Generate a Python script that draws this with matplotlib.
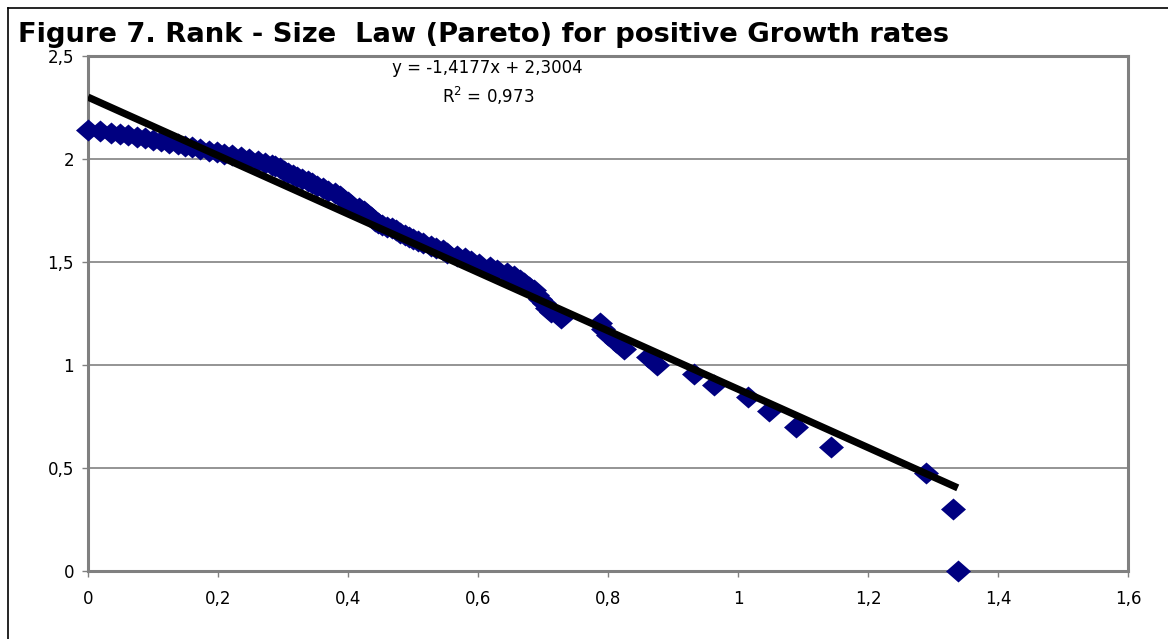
import matplotlib
matplotlib.use("Agg")
import matplotlib.pyplot as plt
from matplotlib.lines import Line2D

plt.rcParams['font.family'] = ['DejaVu Sans']

# log growth rate (x) vs log rank (y)
growth = [1.338, 1.330, 1.289, 1.143, 1.089, 1.047, 1.015, 0.963, 0.932, 0.876,
          0.862, 0.824, 0.812, 0.800, 0.793, 0.787, 0.727, 0.712, 0.706, 0.701,
          0.696, 0.691, 0.686, 0.679, 0.671, 0.664, 0.655, 0.645, 0.630, 0.618,
          0.602, 0.590, 0.580, 0.568, 0.553, 0.546, 0.536, 0.527, 0.515, 0.507,
          0.500, 0.494, 0.488, 0.480, 0.474, 0.468, 0.460, 0.452, 0.446, 0.442,
          0.436, 0.430, 0.424, 0.417, 0.405, 0.400, 0.393, 0.388, 0.380, 0.370,
          0.361, 0.352, 0.345, 0.338, 0.330, 0.322, 0.316, 0.308, 0.302, 0.295,
          0.288, 0.283, 0.272, 0.262, 0.248, 0.235, 0.222, 0.210, 0.198, 0.186,
          0.172, 0.160, 0.150, 0.138, 0.125, 0.112, 0.100, 0.088, 0.075, 0.062,
          0.050, 0.035, 0.018, 0.000]
rank = [0.000, 0.301, 0.477, 0.602, 0.699, 0.778, 0.845, 0.903, 0.954, 1.000,
        1.041, 1.079, 1.114, 1.146, 1.176, 1.204, 1.230, 1.255, 1.279, 1.301,
        1.322, 1.342, 1.362, 1.380, 1.398, 1.415, 1.431, 1.447, 1.462, 1.477,
        1.491, 1.505, 1.519, 1.531, 1.544, 1.556, 1.568, 1.580, 1.591, 1.602,
        1.613, 1.623, 1.633, 1.643, 1.653, 1.663, 1.672, 1.681, 1.690, 1.699,
        1.716, 1.732, 1.748, 1.763, 1.778, 1.792, 1.806, 1.820, 1.833, 1.845,
        1.857, 1.869, 1.881, 1.892, 1.903, 1.914, 1.924, 1.934, 1.944, 1.954,
        1.964, 1.973, 1.982, 1.991, 2.000, 2.009, 2.017, 2.025, 2.033, 2.041,
        2.049, 2.057, 2.064, 2.072, 2.079, 2.086, 2.093, 2.100, 2.107, 2.114,
        2.121, 2.127, 2.134, 2.140]

# trendline as printed on the chart
slope = -1.4177
intercept = 2.3004
r2 = "0,973"
trend_x = [0.0, 1.338]

x_ticks = [0, 0.2, 0.4, 0.6, 0.8, 1.0, 1.2, 1.4, 1.6]
x_tick_labels = ['0', '0,2', '0,4', '0,6', '0,8', '1', '1,2', '1,4', '1,6']
y_ticks = [0, 0.5, 1.0, 1.5, 2.0, 2.5]
y_tick_labels = ['0', '0,5', '1', '1,5', '2', '2,5']

fig = plt.figure(figsize=(11.68, 6.39), dpi=100)
ax = fig.add_axes([0.0753, 0.1064, 0.8905, 0.806])

# slightly wide diamond, like the excel marker
diamond = [(-1, 0), (0, 0.88), (1, 0), (0, -0.88), (-1, 0)]
ax.plot(growth, rank, linestyle='none', marker=diamond, markersize=18,
        color='#000080', markeredgewidth=0, clip_on=False, zorder=3)
trend_y = [slope * v + intercept for v in trend_x]
ax.plot(trend_x, trend_y, color='black', linewidth=5.2,
        solid_capstyle='butt', zorder=4)

ax.set_xlim(0, 1.6)
ax.set_ylim(0, 2.5)
ax.set_xticks(x_ticks)
ax.set_xticklabels(x_tick_labels)
ax.set_yticks(y_ticks)
ax.set_yticklabels(y_tick_labels)
ax.tick_params(axis='both', direction='out', length=4, width=1,
               color='#808080', labelsize=12)
ax.tick_params(axis='x', pad=10)
ax.tick_params(axis='y', pad=6)

ax.yaxis.grid(True, color='#777777', linewidth=1.1)
ax.set_axisbelow(True)
for s in ax.spines.values():
    s.set_color('#808080')
    s.set_linewidth(2.2)

# titles and equation
fig.text(0.0154, 0.934, "Figure 7. Rank - Size  Law (Pareto) for positive Growth rates",
         fontsize=19.7, fontweight='bold', va='baseline', ha='left')
fig.text(0.417, 0.8858, "y = %sx + %s" % (str(slope).replace('.', ','),
                                          str(intercept).replace('.', ',')),
         fontsize=12, ha='center', va='baseline')
fig.text(0.418, 0.8388, r"R$^{2}$ = " + r2, fontsize=12, ha='center', va='baseline')

# outer chart border (left and top only visible)
fig.add_artist(Line2D([0.0065, 0.0065], [0, 0.9875], color='black', linewidth=1.2,
                      transform=fig.transFigure))
fig.add_artist(Line2D([0.0065, 1.0], [0.9875, 0.9875], color='black', linewidth=1.2,
                      transform=fig.transFigure))

fig.savefig("out.png", dpi=100)
